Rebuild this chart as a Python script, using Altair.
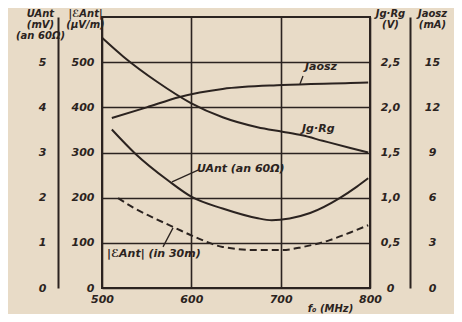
import altair as alt
import pandas as pd

INK = "#2b2320"
BG = "#e8dbc7"
FONT = "DejaVu Sans"

# --- data ---
freq_E = [518, 535, 556, 582, 604, 635, 673, 702, 725, 755, 778, 798]
E_ant = [199, 178, 157, 133, 113, 91, 84, 84, 91, 106, 123, 139]          # µV/m

freq_U = [511, 537, 574, 601, 635, 673, 690, 710, 733, 766, 785, 798]
U_ant = [3.51, 2.98, 2.38, 2.01, 1.76, 1.55, 1.50, 1.54, 1.66, 1.99, 2.24, 2.43]  # mV

freq_G = [500, 524, 562, 599, 635, 674, 702, 724, 747, 778, 798]
IgRg = [2.77, 2.56, 2.28, 2.05, 1.89, 1.78, 1.73, 1.69, 1.63, 1.55, 1.50]   # V

freq_I = [511, 550, 587, 635, 702, 778, 798]
Iaosz = [11.29, 12.0, 12.69, 13.22, 13.48, 13.61, 13.65]                   # mA

x_ticks = [500, 600, 700, 800]
E_ticks = [0, 100, 200, 300, 400, 500]
U_ticks = [0, 1, 2, 3, 4, 5]
G_ticks = [0, 0.5, 1.0, 1.5, 2.0, 2.5]
I_ticks = [0, 3, 6, 9, 12, 15]

# curve labels (frequency, value in the curve's own unit)
lab_E = ("|ℰAnt| (in 30m)", 505.6, 75)
lab_U = ("UAnt (an 60Ω)", 606.3, 2.63)
lab_G = ("Jg·Rg", 723.9, 1.76)
lab_I = ("Jaosz", 727.2, 14.69)
lead_E = ([568.3, 579.5], [91, 133])
lead_U = ([607.5, 578.4], [2.61, 2.35])
lead_I = ([725.0, 721.6], [14.08, 13.55])

W, H = 268, 271

xenc = alt.X(
    "f:Q",
    scale=alt.Scale(domain=[500, 800], nice=False, zero=False),
    axis=alt.Axis(
        values=x_ticks, grid=True, gridColor=INK, gridWidth=1.6, ticks=False,
        domain=False, labelPadding=5, labelFlush=False, labelFontSize=11,
        labelFont=FONT, labelFontStyle="italic", labelFontWeight="bold", labelColor=INK,
        title="f₀ (MHz)", titleX=228, titleY=20, titleAlign="center",
        titleBaseline="middle", titleFont=FONT, titleFontStyle="italic",
        titleFontWeight="bold", titleFontSize=10, titleColor=INK,
    ),
)


def yaxis(**kw):
    base = dict(
        ticks=False, labelFont=FONT, labelFontStyle="italic", labelFontWeight="bold",
        labelFontSize=11, labelColor=INK, titleFont=FONT, titleFontStyle="italic",
        titleFontWeight="bold", titleFontSize=10, titleColor=INK, titleAngle=0,
        titleAlign="center", titleBaseline="top", titleLineHeight=11,
        domainColor=INK, domainWidth=2, labelFlush=False, titleY=-9,
    )
    base.update(kw)
    return alt.Axis(**base)


def group(freqs, vals, domain, axis, label, lead=None, dash=None):
    y = alt.Y("v:Q", scale=alt.Scale(domain=domain, nice=False, zero=True), axis=axis)
    df = pd.DataFrame({"f": freqs, "v": vals})
    line_kw = dict(color=INK, strokeWidth=2, interpolate="monotone")
    if dash:
        line_kw["strokeDash"] = dash
    layers = [alt.Chart(df).mark_line(**line_kw).encode(x=xenc, y=y)]
    if lead is not None:
        ldf = pd.DataFrame({"f": lead[0], "v": lead[1]})
        layers.append(alt.Chart(ldf).mark_line(color=INK, strokeWidth=1.3).encode(x=xenc, y=y))
    tdf = pd.DataFrame({"f": [label[1]], "v": [label[2]], "t": [label[0]]})
    layers.append(
        alt.Chart(tdf).mark_text(
            align="left", baseline="middle", font=FONT, fontStyle="italic",
            fontWeight="bold", fontSize=11, color=INK,
        ).encode(x=xenc, y=y, text="t:N")
    )
    return alt.layer(*layers)


gE = group(
    freq_E, E_ant, [0, 600],
    yaxis(orient="left", offset=0, values=E_ticks, domain=False, grid=True,
          gridColor=INK, gridWidth=1.6, labelPadding=8,
          title=["|ℰAnt|", "(μV/m)"], titleX=-17),
    lab_E, lead_E, dash=[7, 4],
)
gU = group(
    freq_U, U_ant, [0, 6],
    yaxis(orient="left", offset=44, values=U_ticks, domain=True, grid=False,
          labelPadding=12, title=["UAnt", "(mV)", "(an 60Ω)"], titleX=-18),
    lab_U, lead_U,
)
gG = group(
    freq_G, IgRg, [0, 3],
    yaxis(orient="right", offset=0, values=G_ticks, domain=False, grid=False,
          labelPadding=20, labelAlign="center",
          labelExpr="datum.value == 0 ? '0' : replace(format(datum.value, '.1f'), '.', ',')",
          title=["Jg·Rg", "(V)"], titleX=20),
    lab_G,
)
gI = group(
    freq_I, Iaosz, [0, 18],
    yaxis(orient="right", offset=40, values=I_ticks, domain=True, grid=False,
          labelPadding=22, labelAlign="center",
          title=["Jaosz", "(mA)"], titleX=22),
    lab_I, lead_I,
)

chart = (
    alt.layer(gE, gU, gG, gI)
    .resolve_scale(y="independent")
    .properties(
        width=W, height=H,
        autosize=alt.AutoSizeParams(type="none"),
        padding={"left": 94, "top": 9, "right": 84, "bottom": 26},
        background=BG,
    )
    .configure_view(stroke=INK, strokeWidth=2)
)

chart.save("out.html", embed_options={"renderer": "svg", "actions": False})
